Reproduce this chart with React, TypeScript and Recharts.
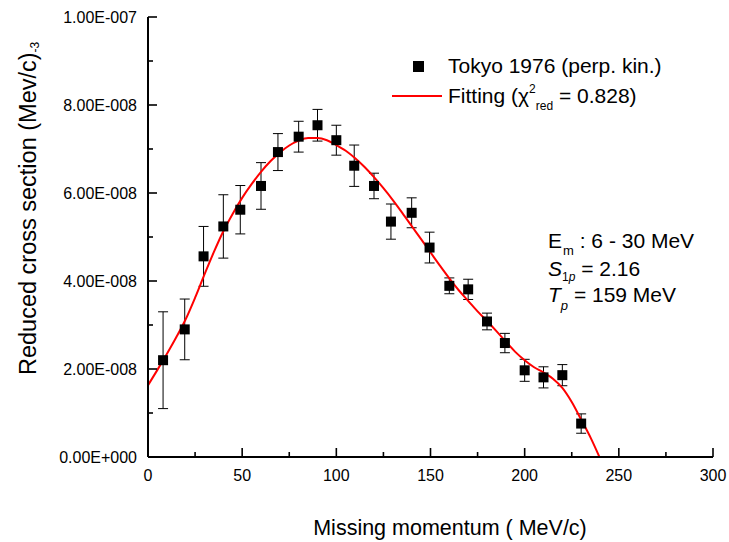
import React from "react";
import {
  ComposedChart,
  Scatter,
  Line,
  XAxis,
  YAxis,
  ErrorBar,
} from "recharts";

const FONT = '"Liberation Sans", Arial, Helvetica, sans-serif';
const UNIT = 1e-9; // values below are in units of 1e-9 (MeV/c)^-3

// Tokyo 1976 (perp. kin.) data points
const momentum = [8, 19.5, 29.5, 40, 49, 60, 69, 80, 90, 100, 109.5, 120, 129, 140, 149.5, 160, 170, 180, 189.5, 200, 210, 220, 230];
const crossSection = [22.0, 29.0, 45.6, 52.4, 56.2, 61.6, 69.3, 72.8, 75.4, 72.0, 66.2, 61.6, 53.5, 55.5, 47.6, 38.9, 38.1, 30.8, 25.9, 19.7, 18.1, 18.6, 7.6];
const crossSectionErr = [11.0, 6.9, 6.8, 7.2, 5.5, 5.3, 4.2, 3.5, 3.6, 3.4, 4.7, 2.9, 4.0, 3.4, 3.5, 1.8, 2.3, 1.9, 2.2, 2.5, 2.4, 2.4, 2.2];

// fitted curve
const fitMomentum = [0, 5, 10, 15, 20, 25, 30, 35, 40, 45, 50, 55, 60, 65, 70, 75, 80, 85, 90, 95, 100, 105, 110, 115, 120, 125, 130, 135, 140, 145, 150, 155, 160, 165, 170, 175, 180, 185, 190, 195, 200, 205, 210, 215, 220, 225, 230, 235, 239.7];
const fitCrossSection = [16.3, 19.8, 23.4, 27.2, 31.3, 36.2, 41.5, 46.6, 51.3, 55.3, 58.9, 62.0, 64.8, 67.2, 69.2, 70.8, 71.9, 72.5, 72.5, 72.0, 70.9, 69.6, 67.9, 65.9, 63.6, 61.1, 58.4, 55.5, 52.5, 49.5, 46.5, 43.5, 40.6, 37.9, 35.5, 33.1, 30.9, 28.6, 26.2, 23.9, 22.0, 20.4, 19.2, 17.8, 15.7, 12.5, 8.5, 4.4, 0];

const xTicks = [0, 25, 50, 75, 100, 125, 150, 175, 200, 225, 250, 275, 300];
const yTicks = [0, 1e-8, 2e-8, 3e-8, 4e-8, 5e-8, 6e-8, 7e-8, 8e-8, 9e-8, 1e-7];

const points = momentum.map((x, i) => ({
  x,
  y: crossSection[i] * UNIT,
  err: crossSectionErr[i] * UNIT,
}));
const fit = fitMomentum.map((x, i) => ({ x, y: fitCrossSection[i] * UNIT }));

const formatSci = (v: number) => {
  const [m, e] = v.toExponential(2).split("e");
  const n = parseInt(e, 10);
  const sign = n < 0 ? "-" : "+";
  return `${m}E${sign}${String(Math.abs(n)).padStart(3, "0")}`;
};

const isMajorY = (v: number) => Math.round(v / 1e-8) % 2 === 0;
const isMajorX = (v: number) => v % 50 === 0;

const BottomTick = (props: any) => {
  const { x, y, payload } = props;
  const major = isMajorX(payload.value);
  return (
    <g>
      <line x1={x} x2={x} y1={y} y2={y - (major ? 9 : 5)} stroke="#000" strokeWidth={1.6} />
      {major && (
        <text x={x} y={y + 24} textAnchor="middle" fontSize={16} fontFamily={FONT} fill="#000">
          {payload.value}
        </text>
      )}
    </g>
  );
};

const TopTick = (props: any) => {
  const { x, y, payload } = props;
  const major = isMajorX(payload.value);
  return <line x1={x} x2={x} y1={y} y2={y + (major ? 9 : 5)} stroke="#000" strokeWidth={1.6} />;
};

const LeftTick = (props: any) => {
  const { x, y, payload } = props;
  const major = isMajorY(payload.value);
  return (
    <g>
      <line x1={x} x2={x + (major ? 9 : 5)} y1={y} y2={y} stroke="#000" strokeWidth={1.6} />
      {major && (
        <text x={x - 11} y={y + 6} textAnchor="end" fontSize={16} fontFamily={FONT} fill="#000">
          {formatSci(payload.value)}
        </text>
      )}
    </g>
  );
};

const RightTick = (props: any) => {
  const { x, y, payload } = props;
  const major = isMajorY(payload.value);
  return <line x1={x} x2={x - (major ? 9 : 5)} y1={y} y2={y} stroke="#000" strokeWidth={1.6} />;
};

const SquareDot = (props: any) => {
  const { cx, cy } = props;
  return <rect x={cx - 5} y={cy - 5} width={10} height={10} fill="#000" />;
};

const axisLine = { stroke: "#000", strokeWidth: 2 };

export default function App() {
  return (
    <div style={{ position: "absolute", left: 0, top: 0, width: 729, height: 542 }}>
      <ComposedChart
        width={729}
        height={542}
        margin={{ top: 17, right: 16, bottom: 0, left: 0 }}
        style={{ fontFamily: FONT }}
      >
        <XAxis
          dataKey="x"
          type="number"
          domain={[0, 300]}
          ticks={xTicks}
          interval={0}
          allowDataOverflow
          height={85}
          tickSize={0}
          tickMargin={0}
          tickLine={false}
          axisLine={axisLine}
          tick={<BottomTick />}
        />
        <XAxis
          xAxisId="top"
          orientation="top"
          type="number"
          domain={[0, 300]}
          ticks={xTicks}
          interval={0}
          allowDataOverflow
          height={0}
          tickSize={0}
          tickMargin={0}
          tickLine={false}
          axisLine={axisLine}
          tick={<TopTick />}
        />
        <YAxis
          type="number"
          domain={[0, 1e-7]}
          ticks={yTicks}
          interval={0}
          allowDataOverflow
          width={148}
          tickSize={0}
          tickMargin={0}
          tickLine={false}
          axisLine={axisLine}
          tick={<LeftTick />}
        />
        <YAxis
          yAxisId="right"
          orientation="right"
          type="number"
          domain={[0, 1e-7]}
          ticks={yTicks}
          interval={0}
          allowDataOverflow
          width={0}
          tickSize={0}
          tickMargin={0}
          tickLine={false}
          axisLine={axisLine}
          tick={<RightTick />}
        />
        <Scatter data={points} dataKey="y" shape={<SquareDot />} isAnimationActive={false}>
          <ErrorBar dataKey="err" direction="y" width={5} stroke="#000" strokeWidth={1} />
        </Scatter>
        <Line
          data={fit}
          dataKey="y"
          type="monotone"
          stroke="#ff0000"
          strokeWidth={2}
          dot={false}
          activeDot={false}
          isAnimationActive={false}
        />

        {/* axis titles */}
        <text transform="rotate(-90)" x={-375} y={36} fontSize={23.5} fontFamily={FONT} fill="#000">
          Reduced cross section (Mev/c)
          <tspan dy={3} fontSize={12}>-3</tspan>
        </text>
        <text x={450} y={535} textAnchor="middle" fontSize={21.5} fontFamily={FONT} fill="#000">
          Missing momentum ( MeV/c)
        </text>

        {/* legend */}
        <rect x={413} y={61} width={11} height={11} fill="#000" />
        <text x={448} y={73} fontSize={21} fontFamily={FONT} fill="#000">
          Tokyo 1976 (perp. kin.)
        </text>
        <line x1={392} x2={442} y1={96} y2={96} stroke="#ff0000" strokeWidth={2} />
        <text x={448} y={103} fontSize={21} fontFamily={FONT} fill="#000">
          Fitting (χ
          <tspan dy={-10} fontSize={12}>2</tspan>
          <tspan dy={17} fontSize={12}>red</tspan>
          <tspan dy={-7}> = 0.828)</tspan>
        </text>

        {/* fit parameters */}
        <text x={548} y={248} fontSize={21} fontFamily={FONT} fill="#000">
          E<tspan dx={1} dy={7} fontSize={13}>m</tspan>
          <tspan dy={-7}> : 6 - 30 MeV</tspan>
        </text>
        <text x={548} y={276} fontSize={21} fontFamily={FONT} fill="#000">
          <tspan fontStyle="italic">S</tspan>
          <tspan dy={5} fontSize={12}>1</tspan>
          <tspan fontSize={12} fontStyle="italic">p</tspan>
          <tspan dy={-5}> = 2.16</tspan>
        </text>
        <text x={548} y={302} fontSize={21} fontFamily={FONT} fill="#000">
          <tspan fontStyle="italic">T</tspan>
          <tspan dy={8} fontSize={13} fontStyle="italic">p</tspan>
          <tspan dy={-8}> = 159 MeV</tspan>
        </text>
      </ComposedChart>
    </div>
  );
}
